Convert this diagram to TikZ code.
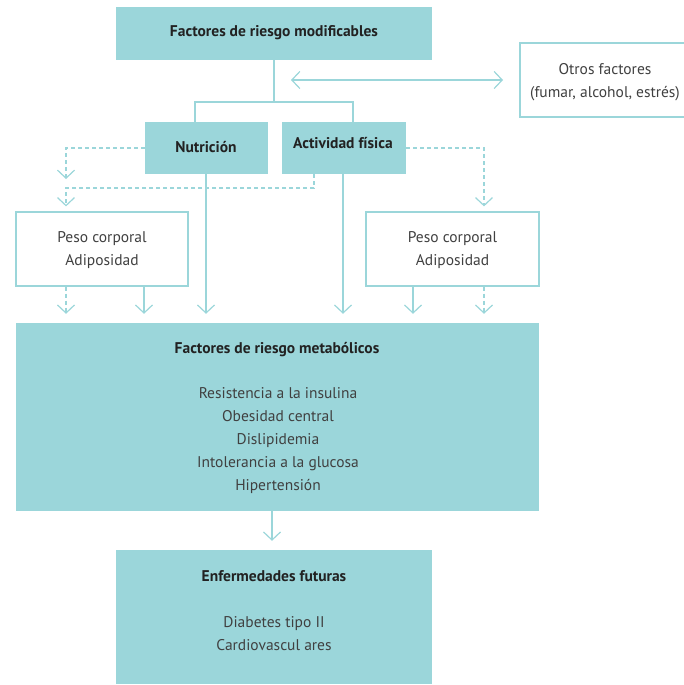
\documentclass[tikz,border=0pt]{standalone}
\usepackage{fontspec}
\setmainfont{PT Sans}
\usetikzlibrary{arrows.meta,calc}
\definecolor{teal}{HTML}{9BD6DA}
\definecolor{ink}{HTML}{404040}
\definecolor{inkdark}{HTML}{222222}
\tikzset{
  conn/.style={draw=teal, line width=1.2pt},
  tip/.style={-{Straight Barb[length=8pt,width=17pt,line width=1.2pt]}},
  dashline/.style={conn, dash pattern=on 4pt off 3pt},
  filledbox/.style={fill=teal, draw=none, inner sep=0pt},
  openbox/.style={draw=teal, line width=1.2pt, fill=white, inner sep=0pt},
  title/.style={font=\fontsize{15.5}{18}\selectfont\bfseries, text=inkdark},
  body/.style={font=\fontsize{15.5}{23}\selectfont, text=ink, align=center},
}
\begin{document}
\begin{tikzpicture}[x=1pt,y=-1pt]
\useasboundingbox (0,0) rectangle (684,685);

% boxes
\node[filledbox, minimum width=316pt, minimum height=53pt] (top) at (274,33.5) {};
\node[openbox, minimum width=166pt, minimum height=74pt] (otros) at (603,80) {};
\node[filledbox, minimum width=123pt, minimum height=52pt] (nut) at (206.5,148) {};
\node[filledbox, minimum width=124pt, minimum height=52pt] (act) at (344,148) {};
\node[openbox, minimum width=172pt, minimum height=74pt] (pesoL) at (102,249) {};
\node[openbox, minimum width=173pt, minimum height=74pt] (pesoR) at (452.5,249) {};
\node[filledbox, minimum width=523pt, minimum height=188pt] (meta) at (277.5,417) {};
\node[filledbox, minimum width=316pt, minimum height=134pt] (enf) at (274,617) {};

% texts
\node[title] (topT) at (274,32.5) {Factores de riesgo modificables};
\node[body] (otrosT) at (605,82) {Otros factores\\(fumar, alcohol, estrés)};
\node[title] (nutT) at (206,147) {Nutrición};
\node[title] (actT) at (343,143) {Actividad física};
\node[body] (pesoLT) at (102,250.5) {Peso corporal\\Adiposidad};
\node[body] (pesoRT) at (452.5,250.5) {Peso corporal\\Adiposidad};
\node[title] (metaT) at (277,349.5) {Factores de riesgo metabólicos};
\node[body] (metaL) at (278,440.5) {Resistencia a la insulina\\Obesidad central\\Dislipidemia\\Intolerancia a la glucosa\\Hipertensión};
\node[title] (enfT) at (274,576) {Enfermedades futuras};
\node[body] (enfL) at (274,633.5) {Diabetes tipo II\\Cardiovascul ares};

% branch from the top box
\coordinate (br) at (274,102);
\coordinate (brL) at (195,102);
\coordinate (brR) at (353,102);
\draw[conn] (top.south) -- (br);
\draw[conn] (nut.north -| brL) -- (brL) -- (brR) -- (act.north -| brR);

% link to other factors
\coordinate (dl) at (291,80);
\coordinate (dr) at (503,80);
\draw[conn, {Straight Barb[length=8pt,width=17pt,line width=1.2pt]}-{Straight Barb[length=8pt,width=17pt,line width=1.2pt]}] (dl) -- (dr);

% dashed influences on body weight
\coordinate (xL) at (66,0);
\coordinate (xR) at (484,0);
\coordinate (n1) at (66,179);
\draw[dashline, tip] (nut.west) -| (n1);
\coordinate (a1) at (314,174);
\coordinate (a2) at (314,188);
\draw[dashline, tip, shorten >=5pt] (a1) -- (a2) -| (pesoL.north -| xL);
\draw[dashline, tip, shorten >=5pt] (act.east) -| (pesoR.north -| xR);

% arrows into the metabolic box
\coordinate (xL2) at (144,0);
\coordinate (xN) at (206,0);
\coordinate (xA) at (343,0);
\coordinate (xR2) at (413,0);
\draw[dashline, tip, shorten >=9pt] (pesoL.south -| xL) -- (meta.north -| xL);
\draw[conn, tip, shorten >=9pt] (pesoL.south -| xL2) -- (meta.north -| xL2);
\draw[conn, tip, shorten >=9pt] (nut.south -| xN) -- (meta.north -| xN);
\draw[conn, tip, shorten >=9pt] (act.south -| xA) -- (meta.north -| xA);
\draw[conn, tip, shorten >=9pt] (pesoR.south -| xR2) -- (meta.north -| xR2);
\draw[dashline, tip, shorten >=9pt] (pesoR.south -| xR) -- (meta.north -| xR);

% towards future disease
\coordinate (xM) at (272,0);
\draw[conn, tip, shorten >=9pt] (meta.south -| xM) -- (enf.north -| xM);
\end{tikzpicture}
\end{document}
